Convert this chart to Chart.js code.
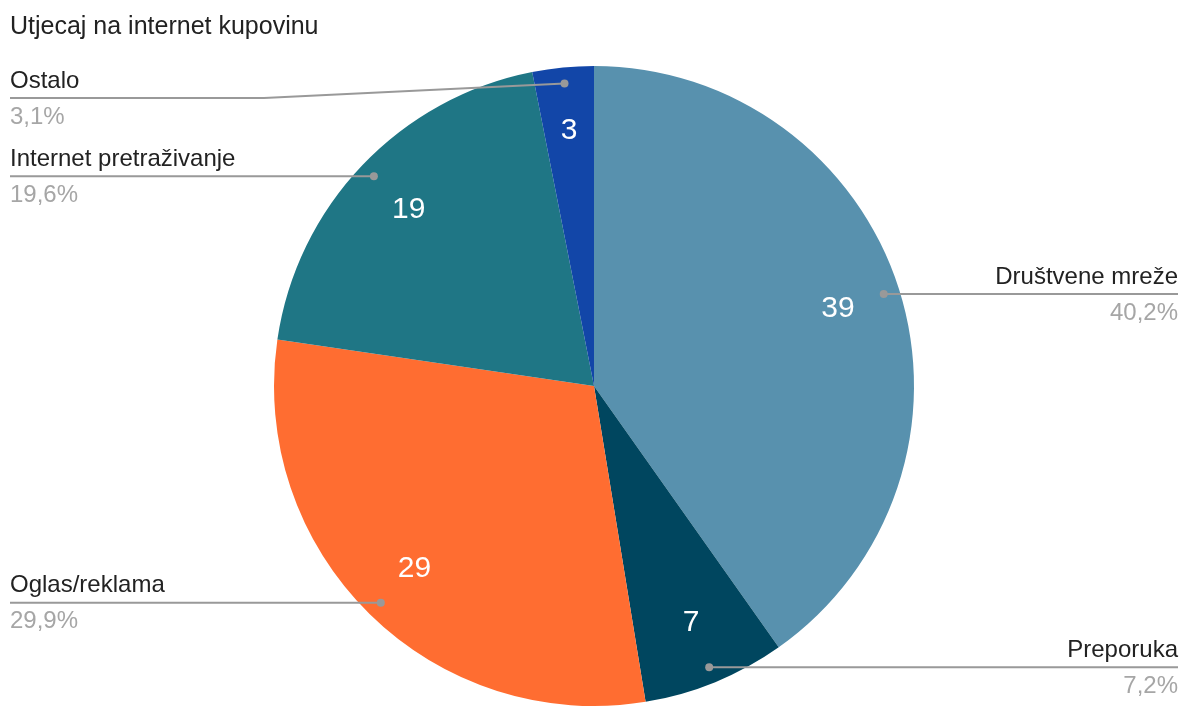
<!DOCTYPE html>
<html>
<head>
<meta charset="utf-8">
<script src="https://cdn.jsdelivr.net/npm/chart.js@4.4.1/dist/chart.umd.min.js"></script>
<style>
  html, body { margin: 0; padding: 0; background: #fff; }
  #wrap { width: 1189px; height: 707px; position: relative; }
</style>
</head>
<body>
<div id="wrap"><canvas id="chart" width="1189" height="707"></canvas></div>
<script>
const chartTitle = 'Utjecaj na internet kupovinu';
const labels = ['Društvene mreže', 'Preporuka', 'Oglas/reklama', 'Internet pretraživanje', 'Ostalo'];
const values = [39, 7, 29, 19, 3];
const colors = ['#5891ae', '#00465f', '#ff6d31', '#1f7685', '#1246a8'];

const FONT = '"Liberation Sans", Arial, sans-serif';

// draws title, value labels inside slices and the leader-line labels
const labelPlugin = {
    id: 'sideLabels',
    afterDraw(chart) {
        const ctx = chart.ctx;
        const arcs = chart.getDatasetMeta(0).data;
        const total = values.reduce((a, b) => a + b, 0);

        ctx.save();
        // title
        ctx.font = '25px ' + FONT;
        ctx.fillStyle = '#222';
        ctx.textAlign = 'left';
        ctx.textBaseline = 'middle';
        ctx.fillText(chartTitle, 10, 27);

        // values inside slices
        arcs.forEach((arc, i) => {
            const mid = (arc.startAngle + arc.endAngle) / 2;
            const r = arc.outerRadius * 0.8;
            ctx.font = '30px ' + FONT;
            ctx.fillStyle = '#fff';
            ctx.textAlign = 'center';
            ctx.textBaseline = 'middle';
            ctx.fillText(String(values[i]), arc.x + Math.cos(mid) * r, arc.y + Math.sin(mid) * r);
        });

        // outside labels
        arcs.forEach((arc, i) => {
            const mid = (arc.startAngle + arc.endAngle) / 2;
            const r = arc.outerRadius * 0.95;
            const dx = arc.x + Math.cos(mid) * r;
            const dy = arc.y + Math.sin(mid) * r;
            const right = Math.cos(mid) > 0;
            const ly = Math.max(dy, 98);
            const endX = right ? chart.width - 11 : 10;
            const elbowX = right ? arc.x + arc.outerRadius + 10 : arc.x - arc.outerRadius - 10;

            ctx.strokeStyle = '#999';
            ctx.lineWidth = 2;
            ctx.beginPath();
            ctx.moveTo(dx, dy);
            if (Math.abs(ly - dy) > 0.5) ctx.lineTo(elbowX, ly);
            ctx.lineTo(endX, ly);
            ctx.stroke();

            ctx.fillStyle = '#999';
            ctx.beginPath();
            ctx.arc(dx, dy, 4, 0, Math.PI * 2);
            ctx.fill();

            ctx.textAlign = right ? 'right' : 'left';
            ctx.textBaseline = 'middle';
            ctx.font = '24px ' + FONT;
            ctx.fillStyle = '#222';
            ctx.fillText(labels[i], endX, ly - 17);
            ctx.fillStyle = '#a6a6a6';
            const pct = (values[i] / total * 100).toFixed(1).replace('.', ',') + '%';
            ctx.fillText(pct, endX, ly + 19);
        });
        ctx.restore();
    }
};

new Chart(document.getElementById('chart'), {
    type: 'pie',
    data: {
        labels: labels,
        datasets: [{
            data: values,
            backgroundColor: colors,
            borderWidth: 0
        }]
    },
    options: {
        responsive: false,
        animation: false,
        layout: { padding: { top: 66, bottom: 1, left: 274, right: 275 } },
        plugins: {
            legend: { display: false },
            title: { display: false },
            tooltip: { enabled: false }
        }
    },
    plugins: [labelPlugin]
});
</script>
</body>
</html>
